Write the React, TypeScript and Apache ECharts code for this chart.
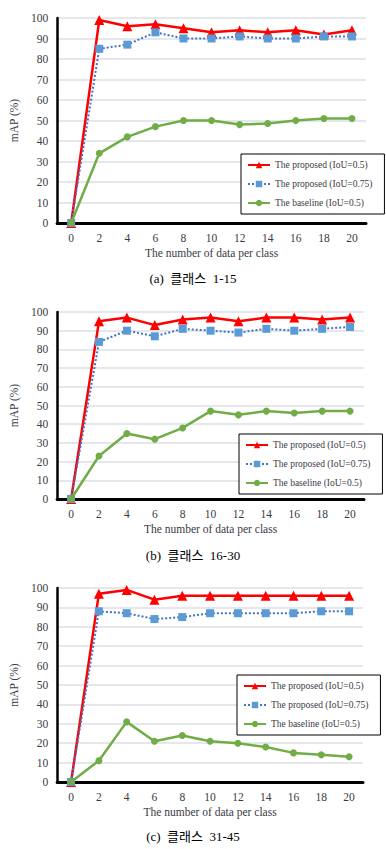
import React, { useEffect, useRef } from "react";
import * as echarts from "echarts";

const xCategories = ["0", "2", "4", "6", "8", "10", "12", "14", "16", "18", "20"];

const seriesNames = ["The proposed (IoU=0.5)", "The proposed (IoU=0.75)", "The baseline (IoU=0.5)"];

const a_iou50 = [0, 99, 96, 97, 95, 93, 94, 93, 94, 92, 94];
const a_iou75 = [0, 85, 87, 93, 90, 90, 91, 90, 90, 91, 91];
const a_base = [0, 34, 42, 47, 50, 50, 48, 48.5, 50, 51, 51];

const b_iou50 = [0, 95, 97, 93, 96, 97, 95, 97, 97, 96, 97];
const b_iou75 = [0, 84, 90, 87, 91, 90, 89, 91, 90, 91, 92];
const b_base = [0, 23, 35, 32, 38, 47, 45, 47, 46, 47, 47];

const c_iou50 = [0, 97, 99, 94, 96, 96, 96, 96, 96, 96, 96];
const c_iou75 = [0, 88, 87, 84, 85, 87, 87, 87, 87, 88, 88];
const c_base = [0, 11, 31, 21, 24, 21, 20, 18, 15, 14, 13];

const captions = ["(a)  클래스  1-15", "(b)  클래스  16-30", "(c)  클래스  31-45"];

const FONT = "'Liberation Serif', 'Times New Roman', serif";
const CJK = "'Liberation Serif', 'Noto Sans CJK KR', serif";

export default function App() {
  const ref = useRef<HTMLDivElement>(null);
  useEffect(() => {
    if (!ref.current) return;
    const chart = echarts.init(ref.current, undefined, { renderer: "svg" });

    const panels = [
      { data: [a_iou50, a_iou75, a_base], grid: { left: 46, right: 20, top: 18, height: 205 }, legend: { left: 241, top: 154 }, cap: 280 },
      { data: [b_iou50, b_iou75, b_base], grid: { left: 46, right: 22, top: 312, height: 187 }, legend: { left: 239, top: 434 }, cap: 557 },
      { data: [c_iou50, c_iou75, c_base], grid: { left: 45, right: 23, top: 588, height: 194 }, legend: { left: 237, top: 675 }, cap: 838 },
    ];

    const grid: any[] = [];
    const xAxis: any[] = [];
    const yAxis: any[] = [];
    const series: any[] = [];
    const legend: any[] = [];
    const graphic: any[] = [];

    panels.forEach((p, i) => {
      grid.push({ ...p.grid });
      xAxis.push({
        type: "category",
        gridIndex: i,
        data: xCategories,
        boundaryGap: true,
        axisLine: { show: true, lineStyle: { color: "#000", width: 3 } },
        axisTick: { show: false },
        axisLabel: { color: "#3a3a44", fontFamily: FONT, fontSize: 11.5, margin: 9 },
        name: "The number of data per class",
        nameLocation: "middle",
        nameGap: 24,
        nameTextStyle: { color: "#3a3a44", fontFamily: FONT, fontSize: 11.5 },
        splitLine: { show: false },
      });
      yAxis.push({
        type: "value",
        gridIndex: i,
        min: 0,
        max: 100,
        interval: 10,
        axisLine: { show: true, lineStyle: { color: "#000", width: 2.5 } },
        axisTick: { show: false },
        axisLabel: { color: "#3a3a44", fontFamily: FONT, fontSize: 11.5, margin: 9 },
        splitLine: { show: true, lineStyle: { color: "#dcdfe6", width: 1.5 } },
        name: "mAP (%)",
        nameLocation: "middle",
        nameGap: 28,
        nameRotate: 90,
        nameTextStyle: { color: "#3a3a44", fontFamily: FONT, fontSize: 11.5 },
      });
      const [s1, s2, s3] = p.data;
      series.push(
        {
          name: seriesNames[0], type: "line", xAxisIndex: i, yAxisIndex: i, data: s1,
          symbol: "triangle", symbolSize: 10, z: 3,
          lineStyle: { color: "#ff0000", width: 2.5 },
          itemStyle: { color: "#ff0000" },
        },
        {
          name: seriesNames[1], type: "line", xAxisIndex: i, yAxisIndex: i, data: s2,
          symbol: "rect", symbolSize: 8, z: 4,
          lineStyle: { color: "#4472c4", width: 2, type: "dotted" },
          itemStyle: { color: "#5b9bd5" },
        },
        {
          name: seriesNames[2], type: "line", xAxisIndex: i, yAxisIndex: i, data: s3,
          symbol: "circle", symbolSize: 7, z: 5,
          lineStyle: { color: "#70ad47", width: 2.5 },
          itemStyle: { color: "#70ad47" },
        }
      );
      legend.push({
        left: p.legend.left,
        top: p.legend.top,
        orient: "vertical",
        data: seriesNames,
        itemWidth: 22,
        itemHeight: 8,
        itemGap: 9,
        padding: [6, 12, 6, 6],
        borderColor: "#000",
        borderWidth: 1,
        backgroundColor: "#fff",
        selectedMode: false,
        textStyle: { color: "#3a3a44", fontFamily: FONT, fontSize: 9.5 },
      });
      graphic.push({
        type: "text",
        left: "center",
        top: p.cap - 8,
        style: { text: captions[i], fill: "#000", font: `13px ${CJK}` },
      });
    });

    chart.setOption({
      animation: false,
      backgroundColor: "#fff",
      grid,
      xAxis,
      yAxis,
      series,
      legend,
      graphic,
    });
    return () => chart.dispose();
  }, []);

  return (
    <div style={{ position: "fixed", left: 0, top: 0, width: 386, height: 849, background: "#fff" }}>
      <div ref={ref} style={{ width: 386, height: 849 }} />
    </div>
  );
}
